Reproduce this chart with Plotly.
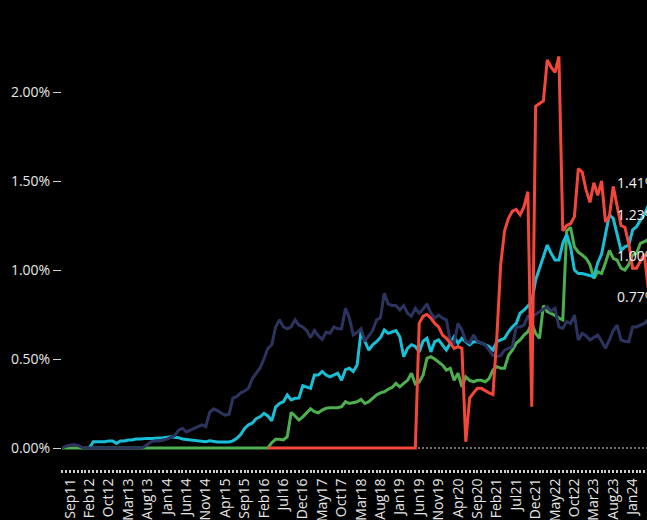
import plotly.graph_objects as go

CATEGORIES = [
    "Jul11", "Aug11", "Sep11", "Oct11", "Nov11", "Dec11",
    "Jan12", "Feb12", "Mar12", "May12", "Jul12", "Sep12", "Oct12", "Nov12", "Dec12",
    "Jan13", "Feb13", "Mar13", "Apr13", "May13", "Jun13", "Jul13", "Aug13", "Sep13", "Oct13", "Nov13", "Dec13",
    "Jan14", "Feb14", "Mar14", "Apr14", "May14", "Jun14", "Jul14", "Aug14", "Sep14", "Oct14", "Nov14", "Dec14",
    "Jan15", "Feb15", "Mar15", "Apr15", "May15", "Jun15", "Jul15", "Aug15", "Sep15", "Oct15", "Nov15", "Dec15",
    "Jan16", "Feb16", "Mar16", "Apr16", "May16", "Jun16", "Jul16", "Aug16", "Sep16", "Oct16", "Nov16", "Dec16",
    "Jan17", "Feb17", "Mar17", "Apr17", "May17", "Jun17", "Jul17", "Aug17", "Sep17", "Oct17", "Nov17", "Dec17",
    "Jan18", "Feb18", "Mar18", "Apr18", "May18", "Jun18", "Jul18", "Aug18", "Sep18", "Oct18", "Nov18", "Dec18",
    "Jan19", "Feb19", "Mar19", "Apr19", "May19", "Jun19", "Jul19", "Aug19", "Sep19", "Oct19", "Nov19", "Dec19",
    "Jan20", "Feb20", "Mar20", "Apr20", "May20", "Jun20", "Jul20", "Aug20", "Sep20", "Oct20", "Nov20", "Dec20",
    "Jan21", "Feb21", "Mar21", "Apr21", "May21", "Jun21", "Jul21", "Aug21", "Sep21", "Oct21", "Nov21", "Dec21",
    "Jan22", "Feb22", "Mar22", "Apr22", "May22", "Jun22", "Jul22", "Aug22", "Sep22", "Oct22", "Nov22", "Dec22",
    "Jan23", "Feb23", "Mar23", "Apr23", "May23", "Jun23", "Jul23", "Aug23", "Sep23", "Oct23", "Nov23", "Dec23",
    "Jan24", "Feb24", "Mar24", "Apr24", "May24",
]

TICK_LABELS = ["Sep11", "Feb12", "Oct12", "Mar13", "Aug13", "Jan14", "Jun14", "Nov14", "Apr15",
               "Sep15", "Feb16", "Jul16", "Dec16", "May17", "Oct17", "Mar18", "Aug18", "Jan19",
               "Jun19", "Nov19", "Apr20", "Sep20", "Feb21", "Jul21", "Dec21", "May22", "Oct22",
               "Mar23", "Aug23", "Jan24"]

# values in percent (None = series not drawn yet)
NAVY = [
    0.00, 0.01, 0.015, 0.02, 0.015, 0.005, 0.0, 0.0, 0.0, 0.0,
    0.0, 0.0, 0.0, 0.0, 0.0, 0.0, 0.0, 0.0, 0.0, 0.0,
    0.0, 0.005, 0.02, 0.035, 0.04, 0.04, 0.045, 0.05, 0.06, 0.07,
    0.10, 0.11, 0.09, 0.10, 0.11, 0.12, 0.13, 0.12, 0.20, 0.22,
    0.21, 0.195, 0.185, 0.19, 0.28, 0.29, 0.31, 0.32, 0.335, 0.39,
    0.42, 0.45, 0.50, 0.56, 0.58, 0.68, 0.72, 0.68, 0.67, 0.68,
    0.72, 0.69, 0.68, 0.66, 0.62, 0.66, 0.63, 0.61, 0.65, 0.645,
    0.68, 0.67, 0.67, 0.785, 0.73, 0.635, 0.65, 0.67, 0.60, 0.63,
    0.66, 0.72, 0.73, 0.87, 0.81, 0.80, 0.80, 0.775, 0.80, 0.757,
    0.74, 0.785, 0.757, 0.78, 0.81, 0.757, 0.73, 0.747, 0.73, 0.72,
    0.60, 0.59, 0.70, 0.663, 0.60, 0.59, 0.635, 0.60, 0.59, 0.58,
    0.55, 0.52, 0.513, 0.52, 0.55, 0.56, 0.57, 0.68, 0.68, 0.69,
    0.74, 0.74, 0.75, 0.766, 0.78, 0.794, 0.77, 0.785, 0.68, 0.672,
    0.71, 0.70, 0.747, 0.607, 0.644, 0.63, 0.607, 0.62, 0.635, 0.60,
    0.56, 0.607, 0.66, 0.69, 0.607, 0.60, 0.597, 0.68, 0.68, 0.69,
    0.70, 0.72,
]

CYAN = [
    None, None, None, None, None, None, None, 0.0, 0.035, 0.035,
    0.035, 0.035, 0.04, 0.04, 0.026, 0.04, 0.04, 0.045, 0.045, 0.05,
    0.05, 0.054, 0.054, 0.054, 0.054, 0.056, 0.058, 0.06, 0.063, 0.06,
    0.058, 0.05, 0.048, 0.045, 0.045, 0.04, 0.038, 0.035, 0.04, 0.036,
    0.034, 0.034, 0.032, 0.034, 0.04, 0.054, 0.075, 0.11, 0.13, 0.14,
    0.165, 0.175, 0.195, 0.18, 0.153, 0.23, 0.25, 0.26, 0.298, 0.27,
    0.279, 0.28, 0.35, 0.344, 0.335, 0.41, 0.41, 0.43, 0.41, 0.40,
    0.41, 0.42, 0.38, 0.44, 0.448, 0.43, 0.466, 0.653, 0.60, 0.55,
    0.58, 0.597, 0.62, 0.663, 0.644, 0.653, 0.66, 0.625, 0.513, 0.56,
    0.58, 0.57, 0.54, 0.60, 0.616, 0.54, 0.597, 0.607, 0.58, 0.55,
    0.588, 0.625, 0.588, 0.616, 0.597, 0.58, 0.597, 0.597, 0.59, 0.58,
    0.57, 0.55, 0.597, 0.607, 0.616, 0.653, 0.68, 0.70, 0.757, 0.775,
    0.80, 0.82, 0.944, 1.01, 1.084, 1.14, 1.094, 1.056, 1.056, 1.15,
    1.20, 1.13, 1.00, 0.98, 0.98, 0.975, 0.97, 0.962, 1.04, 1.09,
    1.20, 1.31, 1.29, 1.206, 1.11, 1.13, 1.14, 1.225, 1.243, 1.28,
    1.31, 1.36,
]

GREEN = [0.0] * 54 + [
    0.03, 0.049, 0.049, 0.045, 0.063, 0.20,
    0.18, 0.157, 0.175, 0.20, 0.22, 0.204, 0.198, 0.213, 0.223, 0.226,
    0.225, 0.226, 0.232, 0.26, 0.25, 0.255, 0.26, 0.273, 0.25, 0.26,
    0.28, 0.298, 0.31, 0.316, 0.33, 0.34, 0.363, 0.344, 0.363, 0.38,
    0.42, 0.36, 0.37, 0.41, 0.504, 0.513, 0.50, 0.485, 0.466, 0.438,
    0.448, 0.38, 0.42, 0.344, 0.40, 0.38, 0.372, 0.38, 0.38, 0.372,
    0.39, 0.438, 0.457, 0.448, 0.448, 0.52, 0.55, 0.588, 0.607, 0.635,
    0.653, 0.70, 0.644, 0.616, 0.80, 0.766, 0.757, 0.745, 0.73, 0.72,
    1.22, 1.24, 1.13, 1.10, 1.084, 1.066, 1.03, 0.953, 0.99, 0.98,
    1.04, 1.11, 1.066, 1.056, 1.01, 1.0, 1.03, 1.084, 1.094, 1.15,
    1.16, 1.17,
]

RED = [None] * 53 + [0.0] * 39 + [
    0.70, 0.74, 0.75, 0.73, 0.70, 0.68, 0.635, 0.616,
    0.59, 0.56, 0.57, 0.56, 0.035, 0.28, 0.31, 0.335, 0.335, 0.32,
    0.31, 0.30, 0.62, 1.03, 1.22, 1.29, 1.33, 1.34, 1.31, 1.356,
    1.44, 0.232, 1.92, 1.935, 1.95, 2.18, 2.14, 2.11, 2.20, 1.22,
    1.25, 1.26, 1.30, 1.57, 1.55, 1.45, 1.38, 1.49, 1.42, 1.50,
    1.27, 1.30, 1.47, 1.36, 1.25, 1.24, 1.15, 1.01, 1.01, 1.05,
    1.09, 0.90,
]

SERIES = [
    ("green", GREEN, "#4daf4f"),
    ("cyan", CYAN, "#19bfd6"),
    ("navy", NAVY, "#2c335e"),
    ("red", RED, "#f4463a"),
]

END_LABELS = ["1.41%", "1.23%", "1.00%", "0.77%"]
END_VALUES = [1.41, 1.23, 1.00, 0.77]
END_LABEL_X = 142.5

Y_TICKS = [0, 0.5, 1.0, 1.5, 2.0]

fig = go.Figure()
for name, vals, color in SERIES:
    fig.add_trace(go.Scatter(
        x=CATEGORIES, y=vals, mode="lines", name=name,
        line=dict(color=color, width=3), showlegend=False, connectgaps=False,
    ))

fig.add_shape(type="line", xref="paper", x0=0, x1=1, yref="y", y0=0, y1=0,
              line=dict(color="#9a9a9a", width=1.5, dash="2px,2px"), layer="below")

for txt, v in zip(END_LABELS, END_VALUES):
    fig.add_annotation(x=END_LABEL_X, y=v, xref="x", yref="y", text=txt,
                       showarrow=False, xanchor="left", yanchor="bottom", yshift=3,
                       font=dict(family="Open Sans", size=14, color="#f2f2f2"))

fig.update_layout(
    template="none",
    width=647, height=520,
    margin=dict(l=62, r=0, t=16, b=51),
    paper_bgcolor="#000000", plot_bgcolor="#000000",
    font=dict(family="Open Sans", size=14, color="#e6e6e6"),
    showlegend=False,
)

fig.update_xaxes(
    type="category", categoryorder="array", categoryarray=CATEGORIES,
    tickmode="array", tickvals=CATEGORIES,
    ticktext=[c if c in TICK_LABELS else "" for c in CATEGORIES],
    tickangle=-90, ticks="outside", ticklen=3, tickwidth=1.5, tickcolor="#cfcfcf",
    tickfont=dict(family="Open Sans", size=14, color="#e6e6e6"),
    showgrid=False, zeroline=False, showline=False, automargin=False,
    range=[-0.05, 150.7],
)
fig.update_yaxes(
    tickmode="array", tickvals=Y_TICKS, ticktext=[f"{v:.2f}%" for v in Y_TICKS],
    ticks="outside", ticklen=8, tickwidth=1, tickcolor="#d0d0d0",
    tickfont=dict(family="Open Sans", size=14, color="#e6e6e6"),
    showgrid=False, zeroline=False, showline=False, automargin=False,
    range=[-0.118, 2.427],
)

fig.write_html(
    "out.html",
    config={"displayModeBar": False},
    post_script="document.body.style.margin='0';document.body.style.background='#000';"
                "document.documentElement.style.overflow='hidden';",
)
